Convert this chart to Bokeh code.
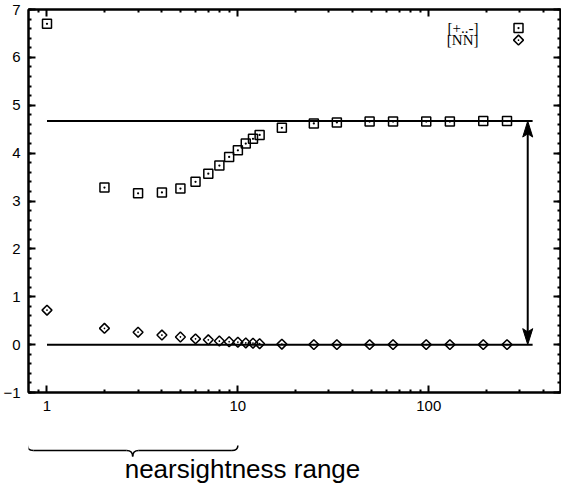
import math
from bokeh.plotting import figure
from bokeh.layouts import column
from bokeh.models import (LinearAxis, LogAxis, FixedTicker, SingleIntervalTicker, Range1d)
from bokeh.core.properties import value
from bokeh.embed import file_html
from bokeh.resources import INLINE

# ---------------- data ----------------
sizes = [1, 2, 3, 4, 5, 6, 7, 8, 9, 10, 11, 12, 13, 17, 25, 33, 49, 65, 97, 129, 193, 257]
series_pm = [6.70, 3.28, 3.16, 3.18, 3.26, 3.40, 3.57, 3.74, 3.92, 4.06, 4.20, 4.30, 4.38,
             4.53, 4.62, 4.64, 4.66, 4.66, 4.66, 4.66, 4.67, 4.67]
series_nn = [0.72, 0.34, 0.26, 0.20, 0.16, 0.12, 0.10, 0.075, 0.06, 0.05, 0.035, 0.03, 0.02,
             0.01, 0.0, 0.0, 0.0, 0.0, 0.0, 0.0, 0.0, 0.0]
series_labels = ["[+..-]", "[NN]"]
level_upper = 4.67
level_lower = 0.0
level_x = [1, 350]
arrow_at = 330
x_tick_values = [1, 10, 100]
x_tick_labels = ["1", "10", "100"]
x_minor_values = [0.9, 2, 3, 4, 5, 6, 7, 8, 9, 20, 30, 40, 50, 60, 70, 80, 90, 200, 300, 400]
y_tick_values = [-1, 0, 1, 2, 3, 4, 5, 6, 7]
brace_span = [0.79, 10]
brace_label = "nearsightness range"

# ---------------- layout ----------------
X0, X1 = 0.8, 490.0
Y0, Y1 = -1.0, 7.0
W = 561
BL, BR, BT, BB = 28, 1, 9, 26
FW = W - BL - BR
FH = 383
H1 = BT + FH + BB
H2 = 486 - H1
DEC = math.log10(X1) - math.log10(X0)
PX_Y = FH / (Y1 - Y0)

def x_at_px(px):
    return 10 ** (math.log10(X0) + px / FW * DEC)

def y_at_px_from_top(px):
    return Y1 - px / PX_Y

def xfac(px):
    return 10 ** (px / FW * DEC)

TICK_FONT = "Liberation Sans"

p = figure(width=W, height=H1, x_axis_type="log",
           x_range=Range1d(X0, X1), y_range=Range1d(Y0, Y1),
           output_backend="svg", toolbar_location=None,
           min_border_left=BL, min_border_right=BR,
           min_border_top=BT, min_border_bottom=BB)
p.grid.visible = False
p.outline_line_color = "black"
p.outline_line_width = 2
p.background_fill_color = "white"
p.border_fill_color = "white"

xticker = FixedTicker(ticks=x_tick_values, minor_ticks=x_minor_values)
yticker = SingleIntervalTicker(interval=1, num_minor_ticks=5)

def style_axis(ax, labels=True):
    ax.axis_line_width = 2
    ax.axis_line_color = "black"
    ax.major_tick_in = 7
    ax.major_tick_out = 0
    ax.minor_tick_in = 3
    ax.minor_tick_out = 0
    ax.major_tick_line_width = 2
    ax.minor_tick_line_width = 2
    ax.major_tick_line_color = "black"
    ax.minor_tick_line_color = "black"
    if labels:
        ax.major_label_text_font = TICK_FONT
        ax.major_label_text_font_size = "15px"
        ax.major_label_text_color = "black"
        ax.major_label_standoff = 8
    else:
        ax.major_label_text_font_size = "0px"
        ax.major_label_text_alpha = 0
        ax.major_label_standoff = 0

p.xaxis.ticker = xticker
p.xaxis.major_label_overrides = {v: s for v, s in zip(x_tick_values, x_tick_labels)}
p.yaxis.ticker = yticker
style_axis(p.xaxis[0])
style_axis(p.yaxis[0])

top_ax = LogAxis(ticker=FixedTicker(ticks=x_tick_values, minor_ticks=x_minor_values))
style_axis(top_ax, labels=False)
p.add_layout(top_ax, "above")
right_ax = LinearAxis(ticker=SingleIntervalTicker(interval=1, num_minor_ticks=5))
style_axis(right_ax, labels=False)
p.add_layout(right_ax, "right")

# horizontal levels
p.line(level_x, [level_upper, level_upper], line_color="black", line_width=2)
p.line(level_x, [level_lower, level_lower], line_color="black", line_width=2)

# double-headed arrow
head_len = 16 / PX_Y
f = xfac(5)
p.segment(x0=[arrow_at], y0=[level_lower + head_len * 0.7], x1=[arrow_at],
          y1=[level_upper - head_len * 0.7], line_color="black", line_width=2)
p.patches(xs=[[arrow_at / f, arrow_at, arrow_at * f, arrow_at],
              [arrow_at / f, arrow_at, arrow_at * f, arrow_at]],
          ys=[[level_upper - head_len, level_upper, level_upper - head_len, level_upper - head_len * 0.8],
              [level_lower + head_len, level_lower, level_lower + head_len, level_lower + head_len * 0.8]],
          fill_color="black", line_color="black", line_width=1)

# data markers
p.scatter(sizes, series_pm, marker="square_dot", size=9, fill_color=None,
          line_color="black", line_width=1.5)
p.scatter(sizes, series_nn, marker="square_dot", size=7, angle=math.pi / 4,
          fill_color=None, line_color="black", line_width=1.5)

# key (text left, sample right)
key_text_x = x_at_px(FW - 82)
key_mark_x = x_at_px(FW - 42)
key_y = [y_at_px_from_top(18.6), y_at_px_from_top(30.6)]
p.text(x=[key_text_x, key_text_x], y=key_y, text=series_labels,
       text_align="right", text_baseline="middle",
       text_font=value("Liberation Serif"), text_font_size="15px", text_color="black")
p.scatter([key_mark_x], [key_y[0]], marker="square_dot", size=9, fill_color=None,
          line_color="black", line_width=1.5)
p.scatter([key_mark_x], [key_y[1]], marker="square_dot", size=7, angle=math.pi / 4,
          fill_color=None, line_color="black", line_width=1.5)

# ---------------- brace + caption (shares the log x scale) ----------------
q = figure(width=W, height=H2, x_axis_type="log", x_range=p.x_range,
           y_range=Range1d(H2, 0),
           output_backend="svg", toolbar_location=None,
           min_border_left=BL, min_border_right=BR, min_border_top=0, min_border_bottom=0,
           x_axis_location=None, y_axis_location=None)
q.grid.visible = False
q.outline_line_color = None

l0, r0 = brace_span
xm = math.sqrt(l0 * r0)
k6, k2 = xfac(6), xfac(2)
yt = 27
yl = yt + 5
ytip = yt + 11
q.bezier(x0=[l0, xm / k6, xm * k6, r0], y0=[yt, yl, yl, yt],
         x1=[l0 * k6, xm, xm, r0 / k6], y1=[yl, ytip, ytip, yl],
         cx0=[l0, xm / k2, xm * k2, r0], cy0=[yt + 4, yl, yl, yt + 4],
         cx1=[l0 * k2, xm, xm, r0 / k2], cy1=[yl, yl + 2, yl + 2, yl],
         line_color="black", line_width=1.5)
q.segment(x0=[l0 * k6, xm * k6], y0=[yl, yl], x1=[xm / k6, r0 / k6], y1=[yl, yl],
          line_color="black", line_width=1.5)
q.text(x=[xm / xfac(8)], y=[50], text=[brace_label], text_align="left",
       text_baseline="middle", text_font=value("Liberation Sans"),
       text_font_size="26px", text_color="black")

layout = column(p, q, spacing=0)
open("out.html", "w").write(file_html(layout, INLINE))
